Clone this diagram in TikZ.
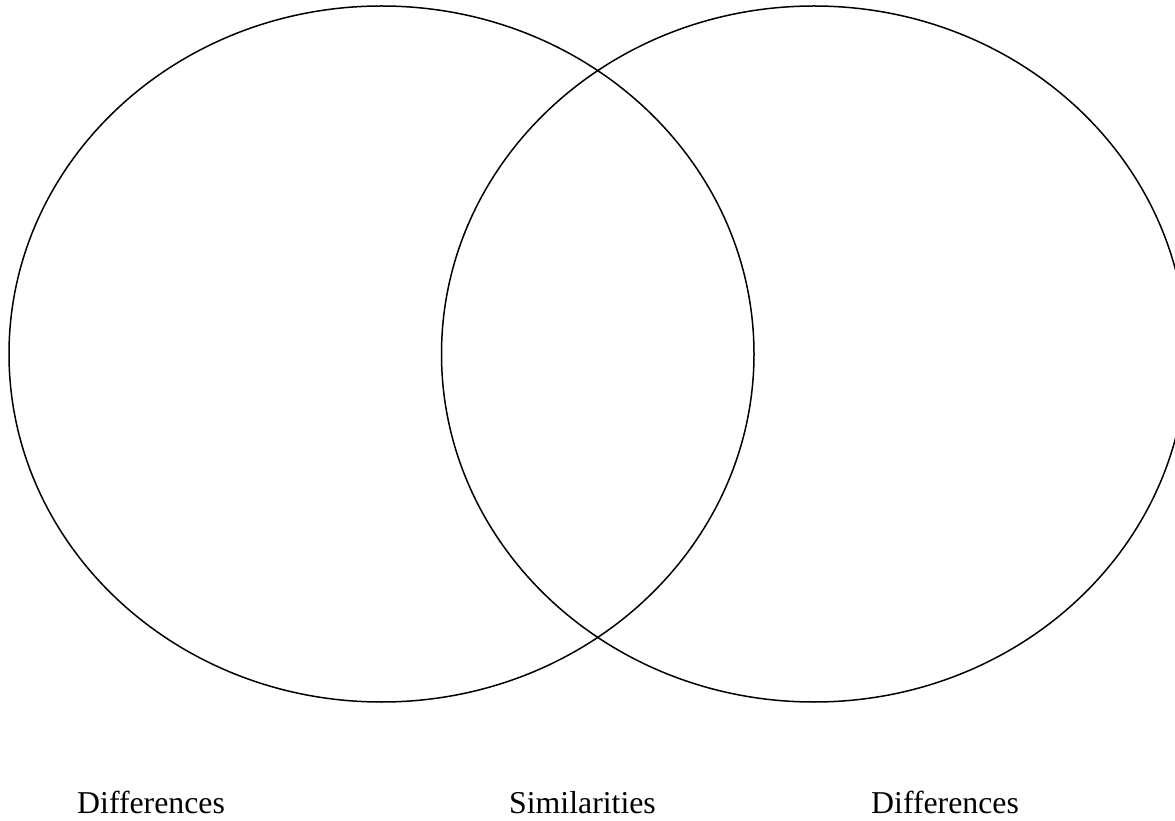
\documentclass[tikz,border=0pt]{standalone}
\usepackage{fontspec}
\setmainfont{Liberation Serif}
\begin{document}
\begin{tikzpicture}[x=1pt,y=1pt,
  venn/.style={draw=black,line width=1.5pt},
  lbl/.style={anchor=base west,inner sep=0pt,font=\fontsize{31.8}{38}\selectfont}]
\useasboundingbox (0,0) rectangle (1175,820);
\draw[venn] (381.5,466) ellipse [x radius=372.5, y radius=348];
\draw[venn] (814,466) ellipse [x radius=372.5, y radius=348];
\node[lbl] (dl) at (77,7) {Differences};
\node[lbl] (sim) at (509,7) {Similarities};
\node[lbl] (dr) at (871,7) {Differences};
\end{tikzpicture}
\end{document}
